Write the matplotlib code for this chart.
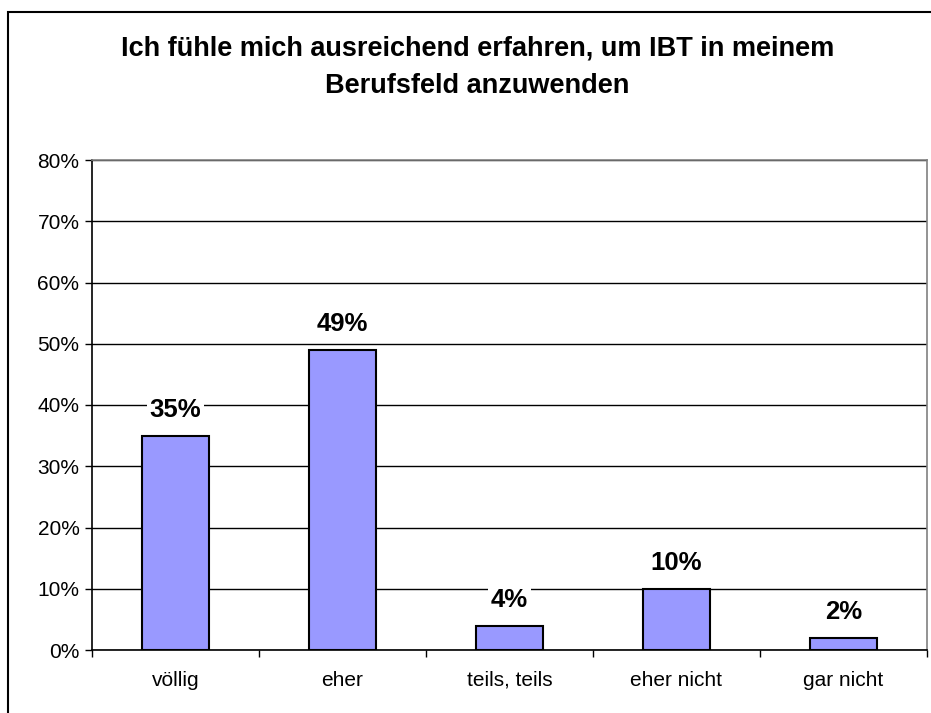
import numpy as np
import matplotlib
matplotlib.use('Agg')
import matplotlib.pyplot as plt
from matplotlib.patches import Rectangle

plt.rcParams['font.family'] = ['Liberation Sans', 'DejaVu Sans']

categories = ['völlig', 'eher', 'teils, teils', 'eher nicht', 'gar nicht']
values = [35, 49, 4, 10, 2]
title = 'Ich fühle mich ausreichend erfahren, um IBT in meinem\nBerufsfeld anzuwenden'

fig = plt.figure(figsize=(9.31, 7.13), dpi=100)
ax = fig.add_axes([92/931, 1-650/713, (927-92)/931, (650-160)/713])

# outer frame of the chart
fig.patches.append(Rectangle((8/931, -0.05), 1.2, 1-12/713+0.05,
                             transform=fig.transFigure, fill=False,
                             edgecolor='black', linewidth=1.5))

x = np.arange(len(categories))
ax.bar(x, values, width=0.4, color='#9999FF', edgecolor='black', linewidth=1.5, zorder=3)

for xi, v in zip(x, values):
    ax.text(xi, v + 2.2, f'{v}%', ha='center', va='bottom', fontsize=18.5,
            fontweight='bold', zorder=4,
            bbox=dict(facecolor='white', edgecolor='none', pad=2))

ax.set_xlim(-0.5, len(categories) - 0.5)
ax.set_ylim(0, 80)
ax.set_yticks(range(0, 81, 10))
ax.set_yticklabels([f'{t}%' for t in range(0, 81, 10)], fontsize=15)
ax.yaxis.grid(True, color='black', linewidth=1)
ax.set_axisbelow(True)

ax.set_xticks(x)
ax.set_xticklabels(categories, fontsize=15)
ax.set_xticks(np.arange(-0.5, len(categories), 1), minor=True)
ax.tick_params(axis='x', which='major', length=0, pad=15)
ax.tick_params(axis='x', which='minor', length=5, width=1)
ax.tick_params(axis='y', length=5, width=1, pad=4)

ax.spines['left'].set_color('black')
ax.spines['bottom'].set_color('black')
ax.spines['right'].set_color('gray')
ax.spines['top'].set_color('gray')
for s in ax.spines.values():
    s.set_linewidth(1.2)

fig.text(0.513, 1-36/713, title, ha='center', va='top', fontsize=19.5,
         fontweight='bold', linespacing=1.55)

plt.savefig('out.png', dpi=100)
